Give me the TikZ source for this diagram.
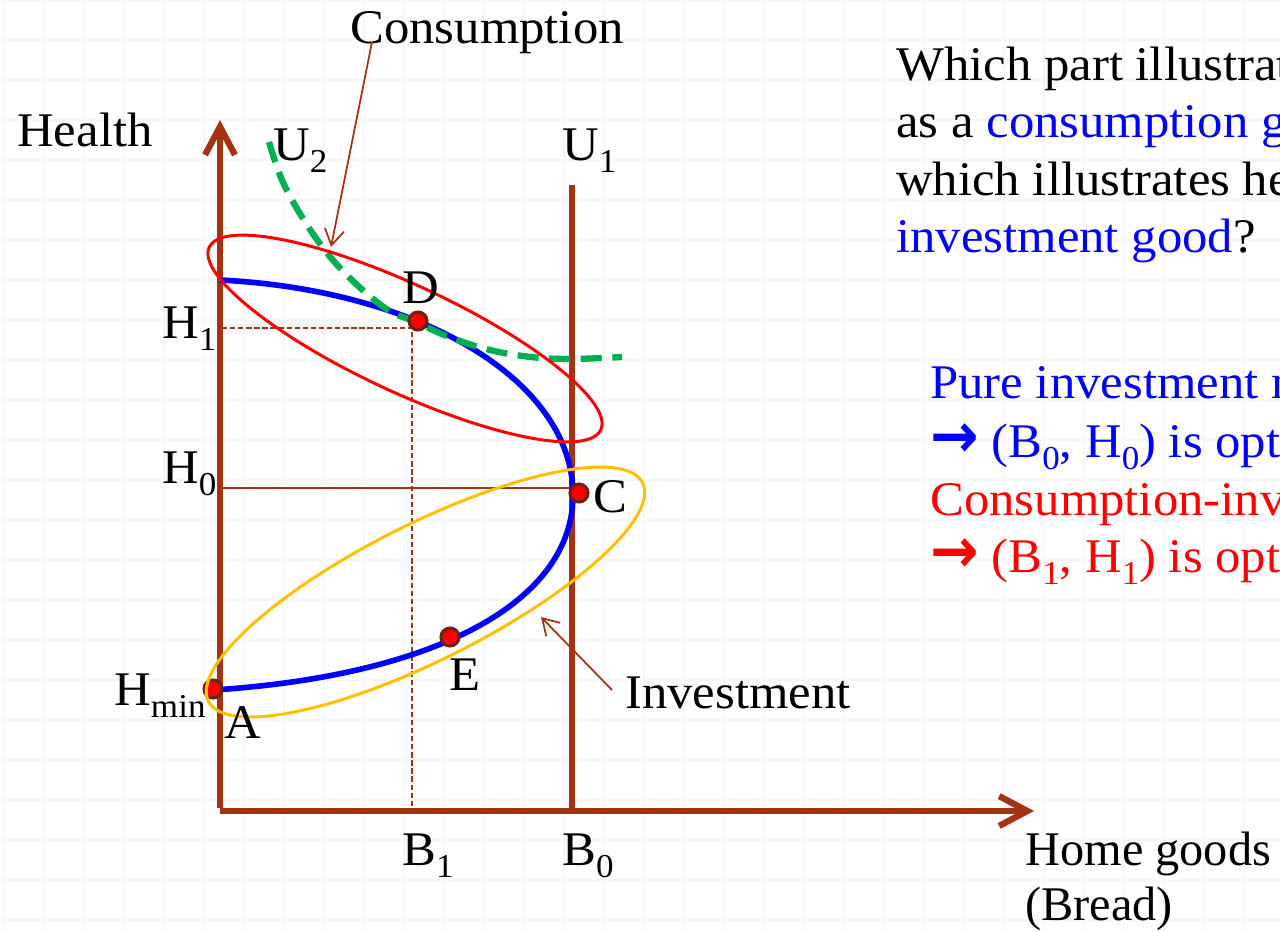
\documentclass[tikz,border=0pt]{standalone}
\usepackage{fontspec}
\setmainfont{Liberation Serif}[FakeStretch=1.05]
\newfontfamily\plainserif{Liberation Serif}
\newfontfamily\symfont{DejaVu Sans}
\usetikzlibrary{arrows.meta, positioning, calc}
\definecolor{axisbrown}{RGB}{166,50,20}
\definecolor{dotbrown}{RGB}{110,35,15}
\definecolor{utilgreen}{RGB}{0,176,80}
\definecolor{invyellow}{RGB}{255,192,0}
\newcommand{\lowsub}[1]{\raisebox{-0.25em}{\fontsize{19}{19}\selectfont #1}}
\newcommand{\bigarrow}{\scalebox{1.2}[1.3]{\symfont\bfseries →}}

\begin{document}
\begin{tikzpicture}[
    x=0.02cm, y=-0.02cm,
    axis/.style={draw=axisbrown, line width=3.6pt},
    guide/.style={draw=axisbrown, line width=0.9pt},
    gridline/.style={draw=black!3, line width=0.6pt},
    lbl/.style={anchor=base west, inner sep=0pt, font=\fontsize{27.5}{33}\selectfont},
    pointer/.style={draw=axisbrown, line width=1pt, -{Straight Barb[length=9pt, width=11pt]}},
    bundle/.style={circle, fill=red, draw=dotbrown, line width=1.8pt, inner sep=0pt, minimum size=10.2pt}
]
\useasboundingbox (0,0) rectangle (1280,931);
\fill[white] (0,0) rectangle (1280,931);
\clip (0,0) rectangle (1280,931);
\foreach \gx in {4,44,...,1284} {
    \draw[gridline] (\gx,0) -- (\gx,931);
}
\foreach \gy in {0,40,...,920} {
    \draw[gridline] (0,\gy) -- (1280,\gy);
}

\coordinate (yBase) at (220,808);
\coordinate (yTip) at (220,120);
\coordinate (xBase) at (220,811);
\coordinate (xTip) at (1034,811);
\coordinate (u1Top) at (572,185);
\coordinate (u1Base) at (572,808);
\coordinate (h1Axis) at (222,328);
\coordinate (b1Corner) at (412,328);
\coordinate (b1Axis) at (412,808);
\coordinate (h0Axis) at (222,488);
\coordinate (h0End) at (572,488);

\draw[guide, dash pattern=on 3pt off 1.6pt] (h1Axis) -- (b1Corner) -- (b1Axis);
\draw[guide] (h0Axis) -- (h0End);
\draw[axis, -{Straight Barb[length=16pt, width=17pt]}] (yBase) -- (yTip);
\draw[axis, -{Straight Barb[length=16pt, width=17pt]}] (xBase) -- (xTip);
\draw[axis] (u1Top) -- (u1Base);

\draw[blue, line width=3.2pt] (220,280) .. controls (420,290) and (573,380) .. (573,495)
    .. controls (573,600) and (440,675) .. (214,690);
\draw[utilgreen, line width=3.6pt, dash pattern=on 12pt off 6pt] plot[smooth, tension=0.6] coordinates {
    (269,142) (282,180) (302,217) (327,253) (355,283) (388,310) (416,322)
    (449,337) (490,350) (531,357) (571,359) (622,357)};

\foreach \n/\x/\y in {ptD/418/321, ptC/579/493, ptE/450/637, ptA/213/689} {
    \node[bundle] (\n) at (\x,\y) {};
}

\draw[red, line width=1.7pt, rotate around={-25:(405,338.5)}] (405,338.5) ellipse [x radius=216, y radius=53.5];
\draw[invyellow, line width=1.7pt, rotate around={26.7:(425.5,592)}] (425.5,592) ellipse [x radius=243, y radius=68];

\node[lbl] (health) at (17,146) {Health};
\node[lbl] (consLbl) at (350,43) {Consumption};
\node[lbl] (u2) at (273,160) {U\lowsub{2}};
\node[lbl] (u1) at (562,160) {U\lowsub{1}};
\node[lbl] (h1) at (162,338) {H\lowsub{1}};
\node[lbl] (h0) at (162,483) {H\lowsub{0}};
\node[lbl] (hmin) at (114,705) {H\lowsub{min}};
\node[lbl] (lblA) at (224,738) {A};
\node[lbl] (lblD) at (402,303) {D};
\node[lbl] (lblC) at (593,512) {C};
\node[lbl] (lblE) at (449,690) {E};
\node[lbl] (b1) at (402,865) {B\lowsub{1}};
\node[lbl] (b0) at (562,865) {B\lowsub{0}};
\node[lbl] (invLbl) at (625,708) {Investment};
\node[lbl] (homeLbl) at (1025,865) {\plainserif Home goods};
\node[lbl] (breadLbl) at (1025,920) {\plainserif (Bread)};

\node[lbl] (q1) at (896,80) {Which part illustrates health};
\node[lbl] (q2) at (896,137) {as a \textcolor{blue}{consumption good}, and};
\node[lbl] (q3) at (896,195) {which illustrates health as an};
\node[lbl] (q4) at (896,252) {\textcolor{blue}{investment good}?};
\node[lbl, text=blue] (pure1) at (930,398) {Pure investment model};
\node[lbl, text=blue] (pure2) at (930,457) {\bigarrow{} (B\lowsub{0}, H\lowsub{0}) is optimal};
\node[lbl, text=red] (mix1) at (930,515) {Consumption-investment model};
\node[lbl, text=red] (mix2) at (930,572) {\bigarrow{} (B\lowsub{1}, H\lowsub{1}) is optimal};

\coordinate (consTip) at (331,247);
\coordinate (invTip) at (541,617);
\draw[pointer] ($(consLbl.base west)+(22,-1)$) -- (consTip);
\draw[pointer] ($(invLbl.base west)+(-13,-18)$) -- (invTip);
\end{tikzpicture}
\end{document}
